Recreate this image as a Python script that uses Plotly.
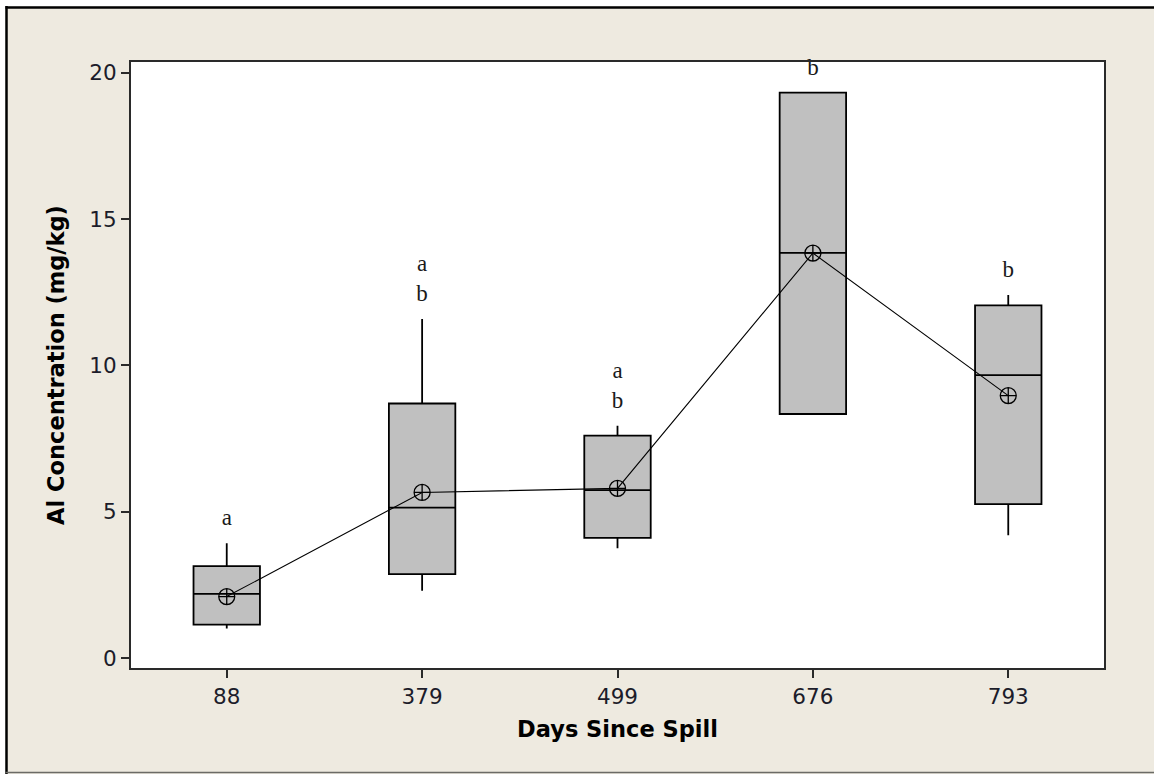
import plotly.graph_objects as go

# ---- data ----
days = ["88", "379", "499", "676", "793"]
q1 = [1.14, 2.87, 4.11, 8.34, 5.26]
median = [2.19, 5.14, 5.74, 13.85, 9.67]
q3 = [3.14, 8.70, 7.60, 19.32, 12.05]
lower_whisker = [1.01, 2.30, 3.75, 8.34, 4.20]
upper_whisker = [3.92, 11.59, 7.94, 19.32, 12.41]
means = [2.10, 5.66, 5.80, 13.84, 8.97]
letters = ["a", "a<br>b", "a<br>b", "b", "b"]
y_ticks = [0, 5, 10, 15, 20]

# ---- style / geometry ----
W, H = 1154, 774
L, R, T, B = 131, 1154 - 1104, 62, 774 - 668
BEIGE = "#eeeae0"
BOX_FILL = "#c0c0c0"
FRAME = "#2a2a2a"

fig = go.Figure()

fig.add_trace(go.Box(
    x=days, q1=q1, median=median, q3=q3,
    lowerfence=lower_whisker, upperfence=upper_whisker,
    fillcolor=BOX_FILL, line=dict(color="black", width=1.8),
    whiskerwidth=0, width=0.34, boxpoints=False,
    showlegend=False, hoverinfo="skip",
))

fig.add_trace(go.Scatter(
    x=days, y=means, mode="lines+markers",
    line=dict(color="black", width=1.1),
    marker=dict(symbol="circle-cross-open", size=16, color="black",
                line=dict(width=1.3, color="black")),
    showlegend=False, hoverinfo="skip",
))

# group letters above the upper whiskers (invisible marker gives a small gap)
fig.add_trace(go.Scatter(
    x=days, y=upper_whisker, mode="markers+text", text=letters,
    textposition="top center",
    marker=dict(size=18, color="rgba(0,0,0,0)"),
    textfont=dict(family="Liberation Serif", size=23, color="#1a1a1a"),
    showlegend=False, hoverinfo="skip", cliponaxis=False,
))

# outer beige panel border (left / top black, bottom grey), white outside
pw, ph = W - L - R, H - T - B
def px(xp):
    return (xp - L) / pw
def py(yp):
    return (H - B - yp) / ph

shapes = [
    dict(type="rect", xref="paper", yref="paper", x0=px(-5), x1=px(5.5),
         y0=py(H + 5), y1=py(-5), fillcolor="white", line=dict(width=0), layer="below"),
    dict(type="rect", xref="paper", yref="paper", x0=px(-5), x1=px(W + 5),
         y0=py(6.5), y1=py(-5), fillcolor="white", line=dict(width=0), layer="below"),
    dict(type="line", xref="paper", yref="paper", x0=px(6.5), x1=px(6.5),
         y0=py(6), y1=py(774), line=dict(color="black", width=2.5)),
    dict(type="line", xref="paper", yref="paper", x0=px(5.5), x1=px(W + 5),
         y0=py(7.5), y1=py(7.5), line=dict(color="black", width=2.5)),
    dict(type="line", xref="paper", yref="paper", x0=px(5.5), x1=px(W + 5),
         y0=py(772.5), y1=py(772.5), line=dict(color="#6b6b66", width=1.5)),
]

fig.update_layout(
    width=W, height=H,
    margin=dict(l=L, r=R, t=T, b=B, autoexpand=False),
    paper_bgcolor=BEIGE, plot_bgcolor="white",
    shapes=shapes,
    font=dict(family="DejaVu Sans", color="#1c1c2a"),
    xaxis=dict(
        type="category", range=[-0.49, 4.49],
        showline=True, mirror=True, linecolor=FRAME, linewidth=2,
        ticks="outside", ticklen=8, tickwidth=1.8, tickcolor=FRAME,
        tickfont=dict(size=21.5, family="DejaVu Sans"),
        showgrid=False, zeroline=False,
        title=dict(text="<b>Days Since Spill</b>", standoff=13,
                   font=dict(size=22.5, family="DejaVu Sans", color="black")),
    ),
    yaxis=dict(
        range=[-0.34, 20.37], tickvals=y_ticks,
        showline=True, mirror=True, linecolor=FRAME, linewidth=2,
        ticks="outside", ticklen=8, tickwidth=1.8, tickcolor=FRAME,
        tickfont=dict(size=21.5, family="DejaVu Sans"),
        showgrid=False, zeroline=False,
        title=dict(text="<b>Al Concentration (mg/kg)</b>", standoff=18,
                   font=dict(size=22.5, family="DejaVu Sans", color="black")),
    ),
)

fig.write_html("out.html")
